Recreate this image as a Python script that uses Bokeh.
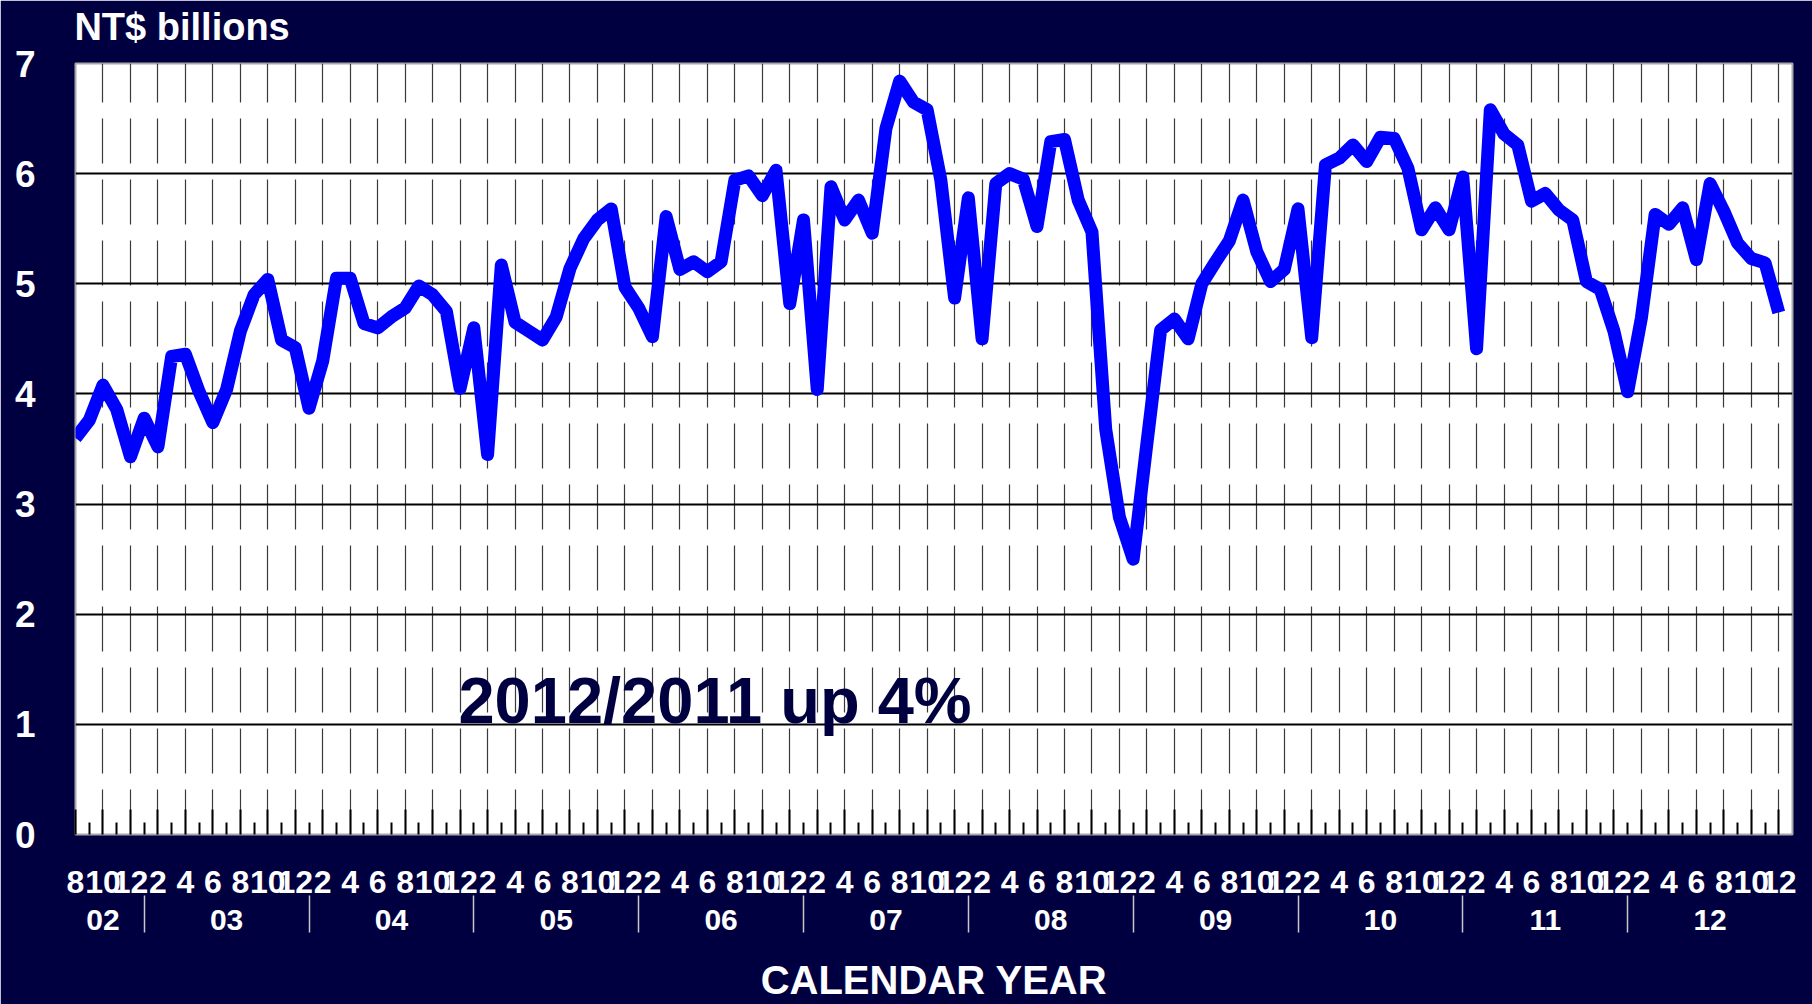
from bokeh.plotting import figure
from bokeh.models import FixedTicker, LinearAxis, Range1d, Label
from bokeh.embed import file_html
from bokeh.resources import INLINE

# Monthly values, Aug 2002 .. Dec 2012 (NT$ billions)
values = [
    3.60, 3.76, 4.08, 3.86, 3.43,                                      # 2002 Aug-Dec
    3.78, 3.52, 4.34, 4.36, 4.02, 3.74, 4.04, 4.57, 4.90, 5.04, 4.49, 4.42,  # 2003
    3.87, 4.30, 5.05, 5.05, 4.64, 4.60, 4.70, 4.78, 4.98, 4.90, 4.75, 4.05,  # 2004
    4.60, 3.45, 5.17, 4.65, 4.57, 4.49, 4.70, 5.14, 5.41, 5.58, 5.68, 4.97,  # 2005
    4.78, 4.52, 5.61, 5.13, 5.20, 5.11, 5.20, 5.94, 5.98, 5.80, 6.03, 4.82,  # 2006
    5.58, 4.04, 5.88, 5.58, 5.76, 5.46, 6.41, 6.84, 6.65, 6.58, 5.94, 4.87,  # 2007
    5.78, 4.50, 5.91, 6.00, 5.95, 5.52, 6.29, 6.31, 5.76, 5.47, 3.68, 2.88,  # 2008
    2.50, 3.55, 4.58, 4.68, 4.50, 5.00, 5.20, 5.39, 5.76, 5.29, 5.02, 5.13,  # 2009
    5.68, 4.51, 6.08, 6.14, 6.26, 6.11, 6.33, 6.32, 6.05, 5.49, 5.69, 5.49,  # 2010
    5.97, 4.41, 6.58, 6.36, 6.26, 5.75, 5.82, 5.67, 5.58, 5.02, 4.95, 4.57,  # 2011
    4.02, 4.69, 5.63, 5.54, 5.69, 5.22, 5.91, 5.66, 5.37, 5.23, 5.19, 4.74,  # 2012
]

# Month tick labels (every second month, starting Aug 2002)
month_labels = [
    "8", "10", "12",
    "2", "4", "6", "8", "10", "12",
    "2", "4", "6", "8", "10", "12",
    "2", "4", "6", "8", "10", "12",
    "2", "4", "6", "8", "10", "12",
    "2", "4", "6", "8", "10", "12",
    "2", "4", "6", "8", "10", "12",
    "2", "4", "6", "8", "10", "12",
    "2", "4", "6", "8", "10", "12",
    "2", "4", "6", "8", "10", "12",
    "2", "4", "6", "8", "10", "12",
]
year_labels = ["02", "03", "04", "05", "06", "07", "08", "09", "10", "11", "12"]
y_tick_values = [0, 1, 2, 3, 4, 5, 6, 7]
unit_title = "NT$ billions"

NAVY = "#000040"
FONT = "Liberation Sans"

n = len(values)
xs = list(range(n))
month_ticks = list(range(0, n, 2))
minor_month_ticks = list(range(1, n, 2))
# January positions -> year separators
first_jan = 5
separators = [first_jan + 12 * i for i in range(len(year_labels) - 1)]
bounds_lo = [-1] + separators
bounds_hi = separators + [n]
year_centers = [(a + b) / 2 for a, b in zip(bounds_lo, bounds_hi)]

p = figure(width=1812, height=1004, output_backend="svg", toolbar_location=None,
           title=None,
           x_range=Range1d(0, n), y_range=Range1d(0, 7),
           min_border_left=75, min_border_right=20, min_border_top=63,
           min_border_bottom=170,
           background_fill_color="white", border_fill_color=NAVY,
           outline_line_color="#a8a8a8", outline_line_width=2)

# x axis (months) -- the default bottom axis
xa = p.below[0]
xa.ticker = FixedTicker(ticks=month_ticks, minor_ticks=minor_month_ticks)
xa.major_label_overrides = {t: lab for t, lab in zip(month_ticks, month_labels)}
xa.axis_line_color = None
xa.major_tick_in = 25
xa.major_tick_out = 0
xa.major_tick_line_color = "black"
xa.major_tick_line_width = 2
xa.minor_tick_in = 12
xa.minor_tick_out = 0
xa.minor_tick_line_color = "black"
xa.minor_tick_line_width = 2
xa.major_label_text_color = "white"
xa.major_label_text_font = FONT
xa.major_label_text_font_style = "bold"
xa.major_label_text_font_size = "32px"
xa.major_label_standoff = 36

# unit title drawn as a single label of an axis above the frame
title_pos = 7.76
ta = LinearAxis(ticker=FixedTicker(ticks=[title_pos], minor_ticks=[]))
ta.major_label_overrides = {title_pos: unit_title}
ta.axis_line_color = None
ta.major_tick_line_color = None
ta.minor_tick_line_color = None
ta.major_label_text_color = "white"
ta.major_label_text_font = FONT
ta.major_label_text_font_style = "bold"
ta.major_label_text_font_size = "38px"
ta.major_label_standoff = 10
p.add_layout(ta, "above")

# grids
p.ygrid.ticker = FixedTicker(ticks=y_tick_values[1:-1])
p.ygrid.grid_line_color = "black"
p.ygrid.grid_line_width = 2
p.xgrid.ticker = FixedTicker(ticks=month_ticks[1:])
p.xgrid.grid_line_color = "#3a3a3a"
p.xgrid.grid_line_width = 1.2
p.xgrid.grid_line_dash = "45 16"

# y axis
p.yaxis.ticker = FixedTicker(ticks=y_tick_values)
p.yaxis.axis_line_color = None
p.yaxis.major_tick_line_color = None
p.yaxis.minor_tick_line_color = None
p.yaxis.major_label_text_color = "white"
p.yaxis.major_label_text_font = FONT
p.yaxis.major_label_text_font_style = "bold"
p.yaxis.major_label_text_font_size = "37px"
p.yaxis.major_label_standoff = 34

# x axis (years with separators)
ya = LinearAxis(ticker=FixedTicker(ticks=year_centers, minor_ticks=separators))
ya.major_label_overrides = {c: lab for c, lab in zip(year_centers, year_labels)}
ya.axis_line_color = None
ya.major_tick_line_color = None
ya.minor_tick_in = 0
ya.minor_tick_out = 37
ya.minor_tick_line_color = "#c8c8c8"
ya.minor_tick_line_width = 1.5
ya.major_label_text_color = "white"
ya.major_label_text_font = FONT
ya.major_label_text_font_style = "bold"
ya.major_label_text_font_size = "30px"
ya.major_label_standoff = -23
ya.axis_label = "CALENDAR YEAR"
ya.axis_label_text_color = "white"
ya.axis_label_text_font = FONT
ya.axis_label_text_font_style = "bold"
ya.axis_label_text_font_size = "40px"
ya.axis_label_standoff = 25
p.add_layout(ya, "below")

# data line
p.line(xs, values, line_color="#0000FF", line_width=13, line_join="round")

# annotation inside the plot
p.add_layout(Label(x=27.88, y=1.217, text="2012/2011 up 4%", text_color=NAVY,
                   text_font=FONT, text_font_style="bold", text_font_size="65px",
                   text_baseline="middle"))

open("out.html", "w").write(file_html(p, INLINE))
